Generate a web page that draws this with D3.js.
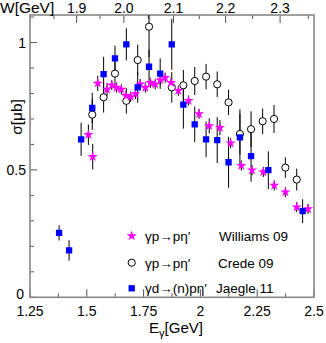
<!DOCTYPE html>
<html><head><meta charset="utf-8">
<script src="https://cdn.jsdelivr.net/npm/d3@7"></script>
<style>body{margin:0;background:#fff}svg{display:block;font-family:"Liberation Sans",Arial,sans-serif}</style>
</head><body><svg id="c" width="326" height="343"></svg>
<script>
// Williams 09 (gamma p -> p eta')
const willE   = [1.507,1.526,1.548,1.589,1.610,1.631,1.652,1.673,1.693,1.714,1.735,1.758,1.780,1.801,1.823,1.845,1.871,1.903,1.948,1.994,2.039,2.086,2.133,2.180,2.227,2.277,2.325,2.374,2.424,2.474];
const willSig = [0.638,0.552,0.840,0.816,0.833,0.823,0.816,0.791,0.787,0.798,0.837,0.823,0.842,0.836,0.853,0.862,0.842,0.811,0.772,0.720,0.673,0.666,0.605,0.517,0.499,0.492,0.439,0.413,0.354,0.347];
const willErr = [0.04,0.05,0.03,0.025,0.02,0.02,0.02,0.02,0.02,0.02,0.02,0.02,0.02,0.02,0.02,0.02,0.02,0.02,0.02,0.02,0.03,0.03,0.02,0.02,0.02,0.02,0.02,0.02,0.02,0.02];
// Crede 09 (gamma p -> p eta')
const credE   = [1.524,1.574,1.624,1.674,1.724,1.774,1.874,1.925,1.975,2.025,2.074,2.124,2.174,2.223,2.274,2.324,2.374,2.424];
const credSig = [0.717,0.785,0.878,0.771,0.931,1.062,0.824,0.832,0.849,0.866,0.836,0.765,0.641,0.660,0.691,0.700,0.509,0.462];
const credErr = [0.06,0.06,0.05,0.05,0.06,0.12,0.06,0.06,0.055,0.05,0.05,0.05,0.08,0.07,0.05,0.055,0.04,0.043];
// Jaegle 11 (gamma d -> (n) p eta')
const jaeE    = [1.378,1.422,1.475,1.524,1.574,1.624,1.674,1.724,1.774,1.823,1.874,1.925,1.975,2.025,2.074,2.124,2.174,2.223,2.299,2.450];
const jaeSig  = [0.253,0.184,0.620,0.743,0.876,0.938,0.993,0.824,0.905,0.878,0.993,0.756,0.679,0.620,0.617,0.530,0.628,0.554,0.499,0.338];
const jaeErr  = [0.03,0.04,0.065,0.06,0.068,0.05,0.063,0.06,0.068,0.06,0.1,0.094,0.07,0.07,0.09,0.1,0.11,0.1,0.074,0.047];
// axis tick labels
const xTicks = [1.25,1.5,1.75,2,2.25,2.5];
const xTickLabels = ["1.25","1.5","1.75","2","2.25","2.5"];
const yTicks = [0,0.5,1];
const yTickLabels = ["0","0.5","1"];
const wTicks = [1.9,2.0,2.1,2.2,2.3];
const wTickLabels = ["1.9","2.0","2.1","2.2","2.3"];
const legendLabels = [["γp→pη′","Williams 09"],["γp→pη′","Crede 09"],["γd→(n)pη′","Jaegle 11"]];

const mp = 0.938;
const EofW = w => (w*w - mp*mp)/(2*mp);

const L=30,R=314,T=15,B=297.3;
const x = d3.scaleLinear([1.25,2.5],[L,R]);
const y = d3.scaleLinear([0,1.108],[B,T]);
const svg = d3.select("#c");
const frameCol = "#888";

svg.append("defs").append("clipPath").attr("id","pc").append("rect")
  .attr("x",L).attr("y",T).attr("width",R-L).attr("height",B-T);

// ticks
const tk = svg.append("g").attr("stroke","#555").attr("stroke-width",1);
d3.range(0,1.101,0.1).forEach(v=>{
  const major = Math.abs(v*2-Math.round(v*2))<1e-6;
  tk.append("line").attr("x1",L).attr("x2",L+(major?7:4)).attr("y1",y(v)).attr("y2",y(v));
});
d3.range(1.25,2.501,0.125).forEach(v=>{
  const major = Math.abs(v*4-Math.round(v*4))<1e-6;
  tk.append("line").attr("x1",x(v)).attr("x2",x(v)).attr("y1",B).attr("y2",B-(major?8:4));
});
d3.range(1.85,2.36,0.05).forEach(w=>{
  const major = Math.abs(w*10-Math.round(w*10))<1e-6;
  const xv = x(EofW(w)); if (xv>R-1) return;
  tk.append("line").attr("x1",xv).attr("x2",xv).attr("y1",T).attr("y2",T+(major?8:4));
});

// frame
svg.append("rect").attr("x",L).attr("y",T).attr("width",R-L).attr("height",B-T)
  .attr("fill","none").attr("stroke",frameCol).attr("stroke-width",1.6);

// labels
const fs = 14;
xTicks.forEach((v,i)=>svg.append("text").attr("x",x(v)).attr("y",316).attr("text-anchor","middle")
  .attr("font-size",fs).text(xTickLabels[i]));
yTicks.forEach((v,i)=>svg.append("text").attr("x",v===0?24:26).attr("y",v===0?299:y(v)+5).attr("text-anchor","end")
  .attr("font-size",fs).text(yTickLabels[i]));
wTicks.forEach((w,i)=>svg.append("text").attr("x",x(EofW(w))).attr("y",13).attr("text-anchor","middle")
  .attr("font-size",fs).text(wTickLabels[i]));
svg.append("text").attr("x",0).attr("y",13).attr("font-size",15.5).text("W[GeV]");
const xl = svg.append("text").attr("x",176).attr("y",333).attr("text-anchor","middle").attr("font-size",15);
xl.append("tspan").text("E");
xl.append("tspan").attr("font-size",11).attr("dy",4).text("γ");
xl.append("tspan").attr("dy",-4).text("[GeV]");
svg.append("text").attr("transform","translate(22,117) rotate(-90)").attr("text-anchor","middle")
  .attr("font-size",15.5).text("σ[μb]");

// data
const plot = svg.append("g").attr("clip-path","url(#pc)");
const will = willE.map((e,i)=>({e,s:willSig[i],d:willErr[i]}));
const cred = credE.map((e,i)=>({e,s:credSig[i],d:credErr[i]}));
const jae  = jaeE.map((e,i)=>({e,s:jaeSig[i],d:jaeErr[i]}));
const bars = plot.append("g").attr("stroke","#000").attr("stroke-width",1);
[...will,...cred,...jae].forEach(p=>bars.append("line").attr("x1",x(p.e)).attr("x2",x(p.e))
  .attr("y1",y(p.s-p.d)).attr("y2",y(p.s+p.d)));

plot.append("g").selectAll("circle").data(cred).join("circle")
  .attr("cx",p=>x(p.e)).attr("cy",p=>y(p.s)).attr("r",3.6)
  .attr("fill","#fff").attr("stroke","#000").attr("stroke-width",1);
const star = d3.symbol(d3.symbolStar,32);
plot.append("g").selectAll("path").data(will).join("path")
  .attr("d",star).attr("transform",p=>`translate(${x(p.e)},${y(p.s)})`).attr("fill","#ff00ff");
const sq = d3.symbol(d3.symbolSquare,40);
plot.append("g").selectAll("path").data(jae).join("path")
  .attr("d",sq).attr("transform",p=>`translate(${x(p.e)},${y(p.s)})`).attr("fill","#0000ff");

// legend
const lg = svg.append("g");
const ly = [236,262.7,288.3];
lg.append("path").attr("d",star).attr("transform",`translate(131.7,${ly[0]})`).attr("fill","#ff00ff");
lg.append("circle").attr("cx",131.7).attr("cy",ly[1]).attr("r",3.6).attr("fill","#fff").attr("stroke","#000");
lg.append("path").attr("d",sq).attr("transform",`translate(131.7,${ly[2]})`).attr("fill","#0000ff");
legendLabels.forEach((l,i)=>{
  lg.append("text").attr("x",145).attr("y",ly[i]+5).attr("font-size",13.5).text(l[0]);
  lg.append("text").attr("x",[219,218,216][i]).attr("y",ly[i]+5).attr("font-size",13.5).text(l[1]);
});
</script></body></html>
